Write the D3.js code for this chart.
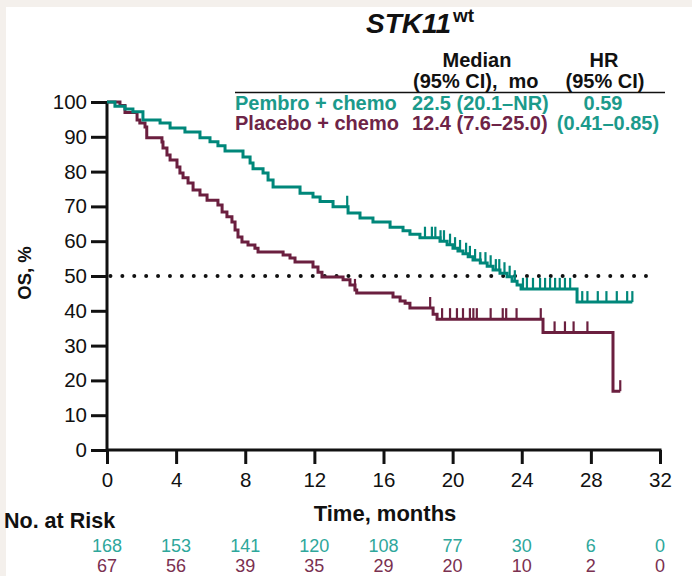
<!DOCTYPE html>
<html>
<head>
<meta charset="utf-8">
<script src="https://cdn.jsdelivr.net/npm/d3@7"></script>
<style>
  html, body { margin: 0; padding: 0; background: #ffffff; }
  svg { display: block; font-family: "Liberation Sans", Arial, sans-serif; }
</style>
</head>
<body>
<svg id="chart" width="692" height="576"></svg>
<script>
// Overall survival, STK11 wild-type subgroup (Kaplan–Meier)
const xTicks = [0, 4, 8, 12, 16, 20, 24, 28, 32];
const yTicks = [0, 10, 20, 30, 40, 50, 60, 70, 80, 90, 100];

// Pembro + chemo: event times (months) and survival (%) after each step
const pembroTimes = [0.46, 1.04, 1.5, 2.08, 3.07, 3.65, 4.51, 5.38, 5.96, 6.42, 6.83, 7.87, 8.28, 8.45, 9.03, 9.32, 9.61,
  11.17, 11.92, 12.33, 13.08, 13.95, 14.64, 15.39, 16.38, 17.13, 17.53, 18.11, 19.27, 19.68, 20.02, 20.31, 20.6,
  20.9, 21.18, 21.6, 22.0, 22.34, 22.74, 23.15, 23.44, 23.73, 23.96, 27.2];
const pembroSurv = [98.8, 98.0, 97.2, 94.8, 94.0, 92.5, 91.4, 89.7, 88.6, 87.4, 85.9, 84.2, 82.5, 80.8, 79.6, 77.6, 75.6,
  73.8, 72.7, 71.4, 69.9, 68.1, 66.7, 65.5, 64.0, 63.0, 62.0, 61.0, 60.0, 59.0, 58.0, 57.2, 56.4,
  55.5, 54.6, 53.7, 52.8, 51.7, 50.8, 49.8, 48.5, 47.4, 46.3, 42.5];
const pembroCensored = [13.9, 18.4, 18.8, 19.0, 19.3, 19.5, 19.85, 20.14, 20.43, 20.78, 21.0, 21.3, 21.6, 21.9, 22.2,
  22.5, 22.7, 23.0, 23.3, 23.6, 24.07, 24.3, 24.65, 25.06, 25.35, 25.64, 25.93, 26.2, 26.5, 26.8,
  27.5, 27.8, 28.4, 28.9, 29.5, 30.1, 30.4];
const pembroEnd = 30.4;

// Placebo + chemo
const placeboTimes = [0.75, 1.04, 1.74, 1.9, 2.2, 2.3, 3.18, 3.24, 3.47, 3.65, 4.05, 4.22, 4.4, 4.69, 4.98, 5.38, 5.79,
  6.42, 6.66, 6.94, 7.23, 7.41, 7.58, 7.81, 8.16, 8.56, 8.74, 10.19, 10.59, 10.88, 11.92, 12.21, 12.44,
  13.66, 14.06, 14.35, 14.45, 16.55, 16.96, 17.25, 17.53, 18.87, 19.1, 25.23, 29.28];
const placeboSurv = [99.0, 97.0, 94.8, 94.0, 92.8, 89.7, 88.5, 86.8, 84.8, 83.3, 81.3, 79.6, 78.2, 76.7, 74.7, 73.3, 71.8,
  70.4, 68.4, 67.0, 65.5, 63.2, 61.2, 59.8, 58.9, 58.0, 56.9, 56.0, 55.2, 54.0, 52.6, 51.1, 49.7,
  48.9, 47.4, 46.0, 45.1, 44.0, 42.8, 42.2, 40.8, 39.0, 37.6, 33.8, 16.9];
const placeboCensored = [14.35, 18.7, 19.39, 19.85, 20.25, 20.6, 21.0, 21.2, 21.4, 22.2, 22.9, 23.1, 23.7, 25.1,
  25.9, 26.5, 27.0, 27.8, 29.7];
const placeboEnd = 29.7;

// Numbers at risk
const riskPembro = [168, 153, 141, 120, 108, 77, 30, 6, 0];
const riskPlacebo = [67, 56, 39, 35, 29, 20, 10, 2, 0];

const teal = "#00877a", tealText = "#1b9a8b", tealRisk = "#2ea79b";
const plum = "#6b1f3f", plumText = "#6e2447", plumRisk = "#7b3050";

const svg = d3.select("#chart");

// slide frame strips along the top and left edges
svg.append("rect").attr("x", 0).attr("y", 0).attr("width", 692).attr("height", 7).attr("fill", "#f4f0ec");
svg.append("rect").attr("x", 0).attr("y", 0).attr("width", 6).attr("height", 576).attr("fill", "#f4f0ec");

const x = d3.scaleLinear().domain([0, 32]).range([107, 660]);
const y = d3.scaleLinear().domain([0, 100]).range([450, 102]);

// Title
const title = svg.append("text").attr("x", 366).attr("y", 33)
  .attr("font-size", 28).attr("font-weight", "bold").attr("fill", "#111");
title.append("tspan").attr("font-style", "italic").text("STK11");
title.append("tspan").attr("font-size", 19).attr("dy", -11).attr("dx", 2).text("wt");

// Summary table
const tbl = svg.append("g").attr("font-weight", "bold").attr("font-size", 20);
tbl.append("text").attr("x", 477).attr("y", 67).attr("text-anchor", "middle").attr("fill", "#111").text("Median");
tbl.append("text").attr("x", 413).attr("y", 88).attr("fill", "#111").attr("xml:space", "preserve").text("(95% CI),  mo");
tbl.append("text").attr("x", 604).attr("y", 67).attr("text-anchor", "middle").attr("fill", "#111").text("HR");
tbl.append("text").attr("x", 605).attr("y", 88).attr("text-anchor", "middle").attr("fill", "#111").text("(95% CI)");
svg.append("line").attr("x1", 235).attr("x2", 665).attr("y1", 92.5).attr("y2", 92.5)
  .attr("stroke", "#111").attr("stroke-width", 1.6);
tbl.append("text").attr("x", 235).attr("y", 110).attr("fill", tealText).text("Pembro + chemo");
tbl.append("text").attr("x", 412).attr("y", 110).attr("fill", tealText).text("22.5 (20.1–NR)");
tbl.append("text").attr("x", 603).attr("y", 110).attr("text-anchor", "middle").attr("fill", tealText).text("0.59");
tbl.append("text").attr("x", 235).attr("y", 130).attr("fill", plumText).text("Placebo + chemo");
tbl.append("text").attr("x", 412).attr("y", 130).attr("fill", plumText).text("12.4 (7.6–25.0)");
tbl.append("text").attr("x", 608).attr("y", 130).attr("text-anchor", "middle").attr("fill", tealText).text("(0.41–0.85)");

// Axes
const yAxis = d3.axisLeft(y).tickValues(yTicks).tickSize(16).tickPadding(4);
const gy = svg.append("g").attr("transform", `translate(${x(0)},0)`).call(yAxis);
const xAxis = d3.axisBottom(x).tickValues(xTicks).tickSize(14).tickPadding(8);
const gx = svg.append("g").attr("transform", `translate(0,${y(0)})`).call(xAxis);
[gy, gx].forEach(g => {
  g.select(".domain").attr("stroke", "#111").attr("stroke-width", 3);
  g.selectAll(".tick line").attr("stroke", "#111").attr("stroke-width", 3);
  g.selectAll(".tick text").attr("fill", "#111").attr("font-size", 20.5)
    .attr("font-family", "'Liberation Sans', Arial, sans-serif");
});
gy.select(".domain").attr("d", `M0,${y(0) + 1.5}V${y(100)}`);
gx.select(".domain").attr("d", `M${x(0)},0H${x(32) + 1.5}`);

svg.append("text").attr("transform", `translate(31,${y(50) - 3}) rotate(-90)`)
  .attr("text-anchor", "middle").attr("font-weight", "bold").attr("font-size", 18.5).attr("fill", "#111")
  .text("OS, %");
svg.append("text").attr("x", 385).attr("y", 521).attr("text-anchor", "middle")
  .attr("font-weight", "bold").attr("font-size", 22).attr("fill", "#111").text("Time, months");

// Median reference line at 50%
svg.append("line").attr("x1", x(0.2)).attr("x2", x(31.7)).attr("y1", y(50)).attr("y2", y(50))
  .attr("stroke", "#111").attr("stroke-width", 4).attr("stroke-linecap", "round")
  .attr("stroke-dasharray", "0 11.9");

// Kaplan–Meier curves
function stepPoints(times, surv, end) {
  const pts = [[0, 100]];
  times.forEach((t, i) => pts.push([t, surv[i]]));
  pts.push([end, surv[surv.length - 1]]);
  return pts;
}
function survAt(times, surv, t) {
  let s = 100;
  times.forEach((tt, i) => { if (tt <= t) s = surv[i]; });
  return s;
}
const line = d3.line().x(d => x(d[0])).y(d => y(d[1])).curve(d3.curveStepAfter);

function drawArm(times, surv, censored, end, color) {
  const g = svg.append("g");
  g.append("path").datum(stepPoints(times, surv, end)).attr("d", line)
    .attr("fill", "none").attr("stroke", color).attr("stroke-width", 3).attr("stroke-linejoin", "miter");
  g.selectAll("line.cens").data(censored).join("line").attr("class", "cens")
    .attr("x1", d => x(d)).attr("x2", d => x(d))
    .attr("y1", d => y(survAt(times, surv, d)))
    .attr("y2", d => y(survAt(times, surv, d)) - 11)
    .attr("stroke", color).attr("stroke-width", 2.2);
}
drawArm(placeboTimes, placeboSurv, placeboCensored, placeboEnd, plum);
drawArm(pembroTimes, pembroSurv, pembroCensored, pembroEnd, teal);

// Number at risk table
svg.append("text").attr("x", 4).attr("y", 528).attr("font-weight", "bold").attr("font-size", 21.5)
  .attr("fill", "#111").text("No. at Risk");
svg.append("g").selectAll("text").data(riskPembro).join("text")
  .attr("x", (d, i) => x(xTicks[i])).attr("y", 552).attr("text-anchor", "middle")
  .attr("font-size", 18).attr("fill", tealRisk).text(d => d);
svg.append("g").selectAll("text").data(riskPlacebo).join("text")
  .attr("x", (d, i) => x(xTicks[i])).attr("y", 572).attr("text-anchor", "middle")
  .attr("font-size", 18).attr("fill", plumRisk).text(d => d);
</script>
</body>
</html>
